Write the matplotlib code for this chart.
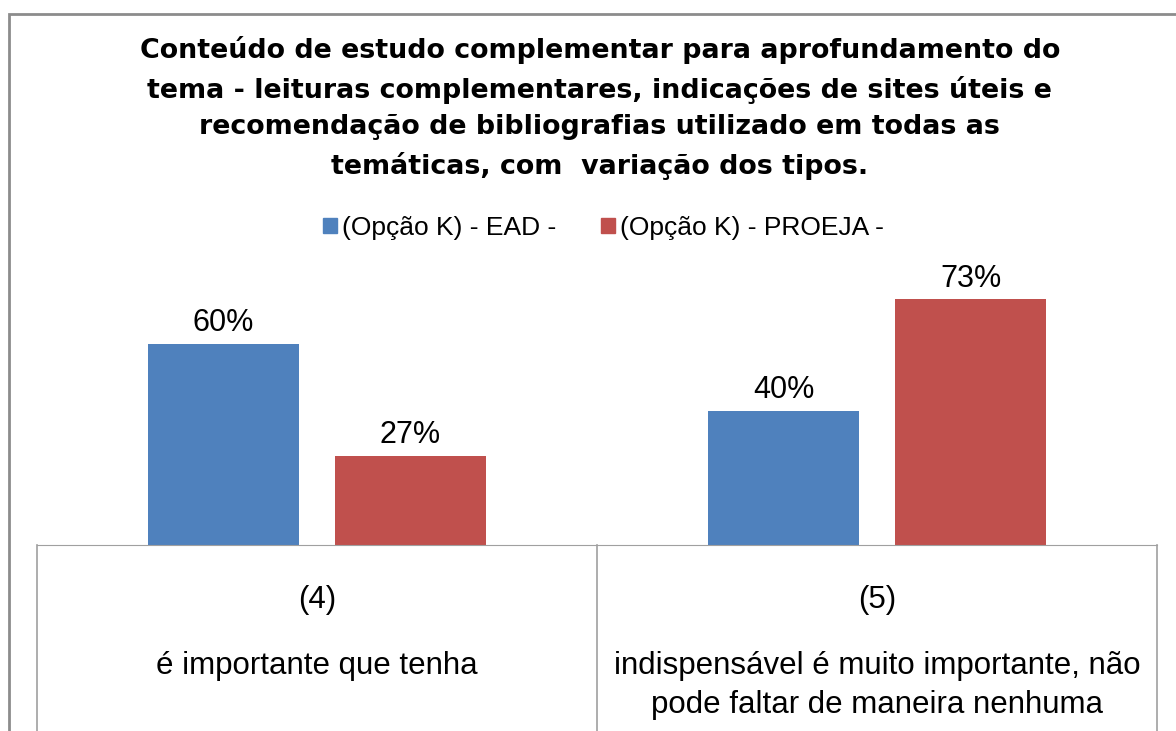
import matplotlib
matplotlib.use("Agg")
from matplotlib import pyplot as plt
from matplotlib.patches import Rectangle, Patch
from matplotlib.transforms import blended_transform_factory

title = ("Conteúdo de estudo complementar para aprofundamento do\n"
         "tema - leituras complementares, indicações de sites úteis e\n"
         "recomendação de bibliografias utilizado em todas as\n"
         "temáticas, com  variação dos tipos.")
series_names = ["(Opção K) - EAD -", "(Opção K) - PROEJA -"]
codes = ["(4)", "(5)"]
descriptions = ["é importante que tenha",
                "indispensável é muito importante, não\npode faltar de maneira nenhuma"]
ead = [0.60, 0.40]
proeja = [0.2667, 0.7333]
colors = ["#4F81BD", "#C0504D"]

W, H = 1176, 731
plt.rcParams['font.family'] = ['Liberation Sans', 'DejaVu Sans']
fig = plt.figure(figsize=(W / 100, H / 100), dpi=100)

def fy(y):
    return 1 - y / H

# outer chart border (runs off the right and bottom of the picture)
fig.patches.append(Rectangle((9 / W, -0.1), 1.2, fy(14) + 0.1, transform=fig.transFigure,
                             fill=False, edgecolor="#8c8c8c", lw=2))

ax = fig.add_axes([37 / W, fy(545), 1120 / W, (545 - 277) / H])
x = list(range(len(codes)))
w = 0.268
b1 = ax.bar([i - 0.167 for i in x], ead, w, color=colors[0])
b2 = ax.bar([i + 0.167 for i in x], proeja, w, color=colors[1])
for bars in (b1, b2):
    ax.bar_label(bars, labels=[f"{round(v * 100)}%" for v in bars.datavalues],
                 padding=4, fontsize=22)
ax.set_xlim(-0.5, 1.5)
ax.set_ylim(0, 0.8)
ax.set_xticks([])
ax.set_yticks([])
for s in ("left", "right", "top"):
    ax.spines[s].set_visible(False)
ax.spines["bottom"].set_color("#a0a0a0")

# category table below the axis
tr = blended_transform_factory(ax.transData, ax.transAxes)
for xv in (-0.5, 0.5, 1.5):
    ax.plot([xv, xv], [0, -1], transform=tr, color="#a0a0a0", lw=1.2, clip_on=False)
trf = blended_transform_factory(ax.transData, fig.transFigure)
for i in x:
    ax.text(i, fy(600), codes[i], transform=trf, ha="center", va="center", fontsize=22.5)
    ax.text(i, fy(651), descriptions[i], transform=trf, ha="center", va="top",
            fontsize=22.5, linespacing=1.4)

fig.text(0.510, fy(36), title, ha="center", va="top", fontsize=19.4,
         fontweight="bold", family="DejaVu Sans", linespacing=1.53)

handles = [Patch(color=c) for c in colors]
fig.legend(handles, series_names, loc="center", bbox_to_anchor=(603.5 / W, fy(228)),
           ncol=2, frameon=False, fontsize=19, handlelength=0.52, handleheight=0.52,
           handletextpad=0.19, columnspacing=1.7)

fig.savefig("out.png", dpi=100)
